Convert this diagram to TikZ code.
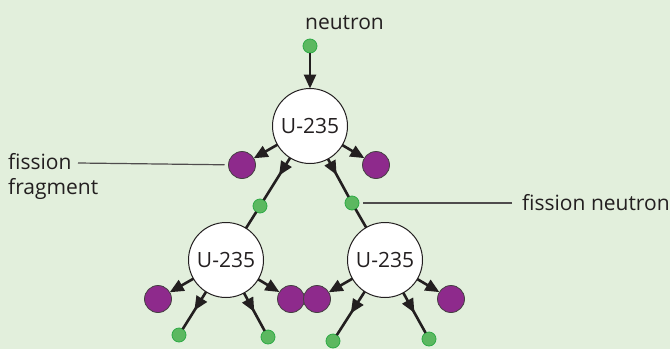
\documentclass[tikz,border=0pt]{standalone}
\usepackage{fontspec}
\setmainfont{Open Sans}
\usetikzlibrary{arrows.meta,decorations.markings}
\definecolor{bg}{RGB}{226,239,220}
\definecolor{purp}{RGB}{142,42,140}
\definecolor{grn}{RGB}{92,184,96}
\definecolor{grnb}{RGB}{46,170,70}
\definecolor{ink}{RGB}{35,31,32}
\begin{document}
\begin{tikzpicture}[x=1pt,y=-1pt,
 uatom/.style={circle,draw=ink,line width=1pt,fill=white,minimum size=75pt,inner sep=0pt,outer sep=0pt,font=\fontsize{21}{24}\selectfont,text=ink},
 frag/.style={circle,draw=ink!85,line width=0.8pt,fill=purp,minimum size=27pt,inner sep=0pt,outer sep=0pt},
 neu/.style={circle,draw=grnb,line width=0.8pt,fill=grn,minimum size=14pt,inner sep=0pt,outer sep=0pt},
 lbl/.style={font=\fontsize{21}{25}\selectfont,text=ink,inner sep=0pt},
 react/.style={draw=ink,line width=2.6pt,-{Triangle[length=14pt,width=12pt]}},
 plainline/.style={draw=ink,line width=2.6pt},
 midarr/.style={draw=ink,line width=2.6pt,postaction={decorate},decoration={markings,mark=at position #1 with {\arrow{Triangle[length=14pt,width=12pt]}}}},
 leader/.style={draw=ink!80,line width=1.2pt}]
\fill[bg] (0,0) rectangle (670,349);
\useasboundingbox (0,0) rectangle (670,349);

\node[lbl,anchor=base] (tn) at (344.5,29) {neutron};
\node[neu] (n0) at (310,46) {};
\node[uatom] (u0) at (310,126) {U-235};
\node[frag] (f0l) at (242,165) {};
\node[frag] (f0r) at (376,165) {};
\node[neu] (n1l) at (260,206) {};
\node[neu] (n1r) at (352,203) {};
\node[uatom] (u1l) at (226,260) {U-235};
\node[uatom] (u1r) at (385,260) {U-235};
\node[frag] (f1a) at (158,299) {};
\node[frag] (f1b) at (291,299) {};
\node[frag] (f1c) at (317,299) {};
\node[frag] (f1d) at (451,299) {};
\node[neu] (n2a) at (179,335) {};
\node[neu] (n2b) at (268,337) {};
\node[neu] (n2c) at (333,341) {};
\node[neu] (n2d) at (429,339) {};

\draw[react] (n0) -- (u0);
\draw[react] (u0) -- (f0l);
\draw[react] (u0) -- (f0r);
\draw[midarr=0.42] (u0) -- (n1l);
\draw[midarr=0.42] (u0) -- (n1r);
\draw[plainline] (n1l) -- (u1l);
\draw[plainline] (n1r) -- (u1r);
\draw[react] (u1l) -- (f1a);
\draw[react] (u1l) -- (f1b);
\draw[react] (u1r) -- (f1c);
\draw[react] (u1r) -- (f1d);
\draw[midarr=0.5] (u1l) -- (n2a);
\draw[midarr=0.5] (u1l) -- (n2b);
\draw[midarr=0.5] (u1r) -- (n2c);
\draw[midarr=0.5] (u1r) -- (n2d);

\node[lbl,anchor=base west] (ff1) at (8,169) {fission};
\node[lbl,anchor=base west] (ff2) at (8,194) {fragment};
\node[lbl,anchor=base west] (fn) at (522,210) {fission neutron};
\coordinate (ffa) at (78,163);
\coordinate (fna) at (512,203);
\draw[leader,shorten >=4pt] (ffa) -- (f0l);
\draw[leader,shorten >=4pt] (fna) -- (n1r);
\end{tikzpicture}
\end{document}
